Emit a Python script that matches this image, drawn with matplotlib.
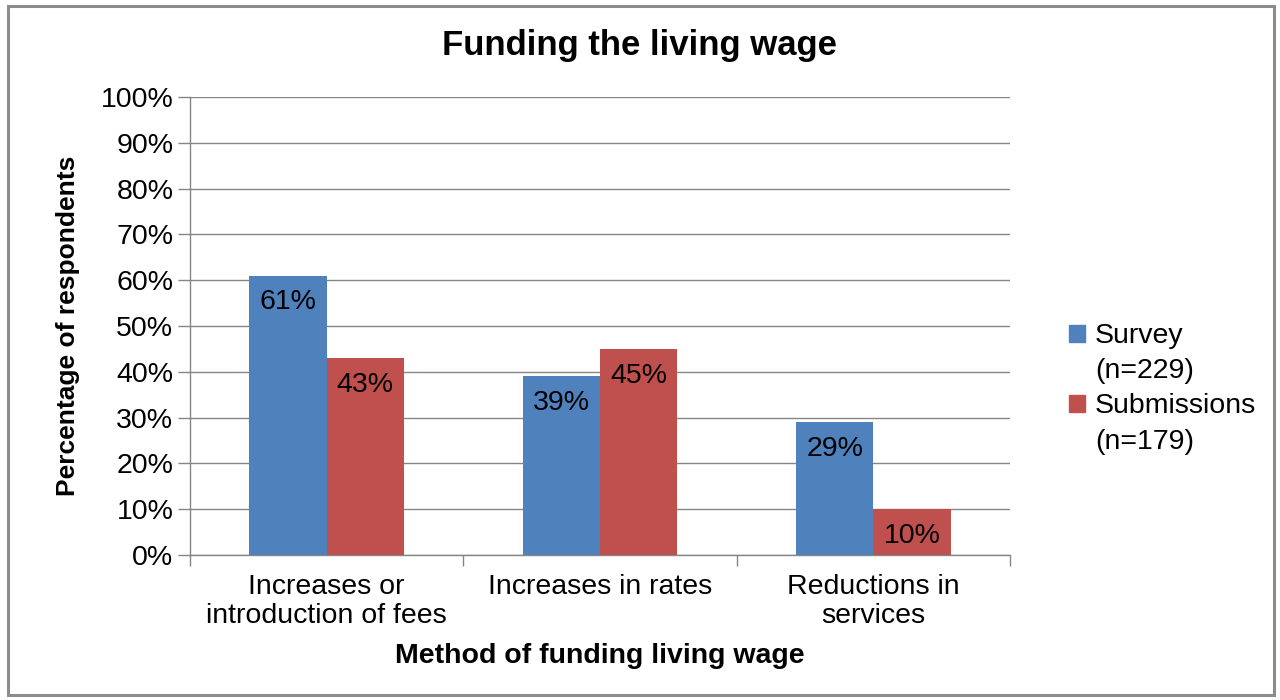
import matplotlib.pyplot as plt
from matplotlib.patches import Patch, Rectangle
import numpy as np

plt.rcParams['font.family'] = ['Liberation Sans', 'DejaVu Sans']

categories = ["Increases or\nintroduction of fees", "Increases in rates", "Reductions in\nservices"]
survey = [61, 39, 29]
submissions = [43, 45, 10]
series_names = ["Survey", "(n=229)", "Submissions", "(n=179)"]
yticks = [0, 10, 20, 30, 40, 50, 60, 70, 80, 90, 100]

blue = "#4F81BD"
red = "#C0504D"
grid_c = "#868686"

fig = plt.figure(figsize=(12.8, 7), dpi=100)
ax = fig.add_axes([190 / 1280, 1 - 555 / 700, 820 / 1280, 458 / 700])

# outer frame
fig.patches.append(Rectangle((8 / 1280, 5 / 700), 1266 / 1280, 689 / 700,
                             transform=fig.transFigure, fill=False,
                             edgecolor="#8c8c8c", linewidth=2.2))

x = np.arange(len(categories))
w = 0.283
b1 = ax.bar(x - w / 2, survey, w, color=blue, zorder=3)
b2 = ax.bar(x + w / 2, submissions, w, color=red, zorder=3)

for bars, vals in ((b1, survey), (b2, submissions)):
    for r, v in zip(bars, vals):
        ax.text(r.get_x() + r.get_width() / 2, v - 3.0, f"{v}%",
                ha="center", va="top", fontsize=20.5, color="black", zorder=4)

ax.set_xlim(-0.5, 2.5)
ax.set_ylim(0, 100)
ax.set_yticks(yticks)
ax.set_yticklabels([f"{t}%" for t in yticks], fontsize=20.5)
ax.yaxis.grid(True, color=grid_c, linewidth=1)
ax.set_axisbelow(True)

ax.set_xticks(x)
ax.set_xticklabels(categories, fontsize=20.5, linespacing=1.15)
ax.set_xticks([-0.5, 0.5, 1.5, 2.5], minor=True)
ax.tick_params(axis="x", which="major", length=0, pad=14)
ax.tick_params(axis="x", which="minor", length=8, color=grid_c, width=1)
ax.tick_params(axis="y", length=9, color=grid_c, width=1, pad=3)

for s in ("top", "right"):
    ax.spines[s].set_visible(False)
for s in ("left", "bottom"):
    ax.spines[s].set_color(grid_c)
    ax.spines[s].set_linewidth(1)

ax.set_ylabel("Percentage of respondents", fontsize=19, fontweight="bold", labelpad=15)
ax.set_xlabel("Method of funding living wage", fontsize=20.5, fontweight="bold", labelpad=10)
fig.text(0.5, 1 - 45 / 700, "Funding the living wage", ha="center", va="center",
         fontsize=25, fontweight="bold")

handles = [Patch(color=blue), Patch(color="none"), Patch(color=red), Patch(color="none")]
fig.legend(handles, series_names, loc="upper left",
           bbox_to_anchor=(1055 / 1280, 1 - 309 / 700), frameon=False,
           fontsize=20.5, handlelength=0.55, handleheight=0.55, handletextpad=0.35,
           labelspacing=0.32, borderpad=0)

fig.savefig("out.png", dpi=100)
